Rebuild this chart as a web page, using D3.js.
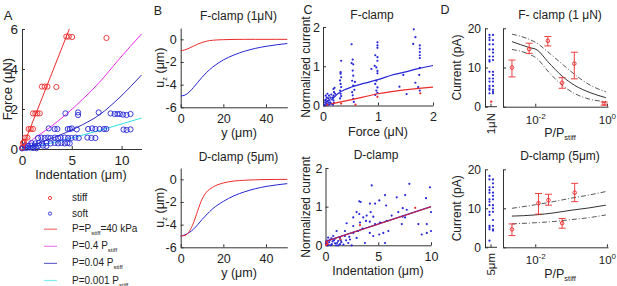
<!DOCTYPE html>
<html>
<head>
<meta charset="utf-8" />
<title>Indentation / clamp figure</title>
<script src="https://cdnjs.cloudflare.com/ajax/libs/d3/7.8.5/d3.min.js"></script>
<style>
  body { margin: 0; background: #fff; }
  svg { font-family: "Liberation Sans", Arial, sans-serif; }
  .ax path, .ax line { stroke: #333; stroke-width: 1; }
  .ax text { fill: #222; font-family: "Liberation Sans", Arial, sans-serif; }
</style>
</head>
<body>
<svg id="fig" width="617" height="286"></svg>
<script>
// ---- panel A : force vs indentation ----
const stiffPts = [[4.45,5.62],[4.69,5.62],[5.03,5.6],[8.48,5.55],[2.0,3.12],[2.28,3.12],[2.55,3.12],[3.45,3.1],
  [1.1,1.78],[1.34,1.78],[1.54,1.78],[1.78,1.78],[0.67,1.0],[0.87,1.0],[1.1,1.0],[0.34,0.57],[0.54,0.57],
  [0.1,0.3],[0.2,0.35],[0.02,0.07]]
const softPts = [[4.36,1.78],[5.63,1.83],[5.63,1.7],[7.7,1.83],[8.9,1.78],[9.3,1.75],[9.58,1.75],[9.82,1.75],
  [10.15,1.72],[10.49,1.7],[10.9,1.75],
  [2.68,1.03],[3.28,1.0],[3.55,1.0],[4.6,1.0],[4.8,1.0],[5.0,1.03],[5.5,0.98],[6.64,1.0],[7.04,1.03],[7.37,1.0],
  [7.8,1.0],[8.24,1.0],[8.47,1.0],[10.2,0.97],[10.5,0.95],[10.9,0.98],
  [1.61,0.55],[1.95,0.57],[2.28,0.55],[2.61,0.57],[2.88,0.55],[3.28,0.57],[3.62,0.55],[3.88,0.57],[4.29,0.57],
  [4.63,0.55],[4.96,0.55],[5.36,0.57],[5.7,0.55],[6.57,0.57],[6.97,0.55],[7.37,0.55],
  [0.94,0.3],[1.34,0.28],[1.68,0.3],[2.01,0.28],[2.45,0.3],[2.88,0.28],[3.28,0.3],[3.62,0.28],[3.95,0.3],
  [4.29,0.28],[4.56,0.3],[4.79,0.28],
  [0.27,0.17],[0.6,0.15],[0.94,0.17],[1.27,0.15],[1.61,0.15],[2.11,0.17],[2.45,0.15],
  [0.0,0.03],[0.1,0.05],[0.44,0.05],[0.77,0.07],[1.1,0.05],[1.45,0.04]]
const fitStiff = [[0,0],[4.75,6]]
const fit04 = [[0,0],[1.15,0.5],[2.8,1.08],[4.45,1.74],[6.1,2.49],[7.75,3.32],[9.73,4.48],[12,5.75]]
const fit004 = [[0,0],[1.15,0.2],[2.8,0.5],[4.45,0.83],[6.1,1.22],[7.75,1.7],[9.75,2.55],[12,3.7]]
const fit0001 = [[0,0],[2,0.2],[4,0.42],[6,0.68],[8,0.96],[10,1.25],[12,1.55]]
const legendNames = ['stiff', 'soft', 'P=P|stiff|=40 kPa', 'P=0.4 P|stiff', 'P=0.04 P|stiff', 'P=0.001 P|stiff']

// ---- panel B : surface displacement profiles ----
const yPos = [0,2,4,6,8,10,12,15,20,25,30,35,40,45,50]
const uzFStiff = [-1,-0.93,-0.78,-0.6,-0.42,-0.28,-0.17,-0.08,-0.03,-0.01,0,0,0,0,0]
const uzFSoft = [-5,-4.92,-4.65,-4.25,-3.8,-3.35,-2.95,-2.45,-1.82,-1.38,-1.05,-0.8,-0.62,-0.48,-0.37]
const uzDStiff = [-5,-4.95,-4.6,-3.85,-2.75,-1.75,-1.15,-0.7,-0.32,-0.15,-0.08,-0.04,-0.02,-0.01,0]
const uzDSoft = [-5,-4.9,-4.7,-4.4,-4.0,-3.55,-3.15,-2.6,-1.95,-1.45,-1.1,-0.83,-0.63,-0.49,-0.38]

// ---- panel C : normalized current ----
const fBlue = [[0.03,0.02],[0.04,0.08],[0.05,0.15],[0.05,0.25],[0.06,0.05],[0.07,0.1],[0.07,0.2],[0.08,0.3],
  [0.08,0.03],[0.09,0.12],[0.1,0.07],[0.1,0.18],[0.11,0.25],[0.12,0.03],[0.12,0.14],[0.13,0.08],[0.14,0.2],
  [0.15,0.05],[0.15,0.28],[0.06,0.01],[0.09,0.01],[0.04,0.13],
  [0.19,0.42],[0.2,0.34],[0.19,0.25],[0.18,0.2],[0.19,0.13],[0.2,0.07],[0.18,0.02],[0.21,0.45],[0.22,0.3],
  [0.33,1.14],[0.32,0.85],[0.32,0.81],[0.33,0.72],[0.31,0.64],[0.32,0.55],[0.33,0.47],[0.31,0.38],[0.32,0.3],
  [0.33,0.24],[0.31,0.18],
  [0.52,1.56],[0.54,1.17],[0.52,1.08],[0.55,1.05],[0.54,0.89],[0.55,0.76],[0.53,0.63],[0.55,0.51],[0.53,0.34],
  [0.54,0.26],[0.55,0.17],[0.56,0.09],[0.58,0.6],[0.57,0.4],
  [0.99,1.61],[0.99,1.53],[0.99,1.47],[0.95,1.28],[0.99,1.23],[0.99,1.14],[0.94,1.01],[0.97,0.97],[0.99,0.88],
  [0.99,0.82],[0.88,0.93],[0.97,0.63],[0.95,0.55],[0.99,0.46],[0.97,0.38],[0.99,0.32],[0.95,0.27],
  [1.46,0.78],[1.39,0.48],[1.52,0.29],
  [1.65,1.94],[1.68,1.74],[1.64,1.57],[1.76,1.53],[1.76,1.45],[1.76,1.36],[1.76,1.28],[1.76,1.21],[1.76,0.96],
  [1.75,0.78],[1.68,0.58],[1.73,0.47],[1.76,0.38]]
const fRed = [[0.08,0.02],[0.33,0.05],[0.59,0.02],[0.99,0.22],[1.77,0.31]]
const fFitBlue = [[0.15,0.14],[0.27,0.3],[0.39,0.4],[0.52,0.47],[0.76,0.57],[1.0,0.66],[1.24,0.77],[1.48,0.85],[1.73,0.94],[2.0,1.02]]
const fFitRed = [[0.15,0.04],[0.52,0.15],[1.0,0.3],[1.48,0.4],[2.0,0.47]]
const dBlue = [[4.38,1.55],[7.95,1.59],[9.9,1.5],[3.2,1.14],[3.33,1.12],[5.64,1.3],[6.75,1.24],[7.55,1.3],[9.53,1.22],
  [4.21,1.08],[4.7,1.08],[5.1,1.16],[5.75,1.03],[7.32,0.96],[7.7,0.92],[10.0,0.86],
  [2.63,0.72],[2.95,0.86],[3.2,0.81],[3.58,0.72],[3.9,0.77],[4.28,0.86],[4.53,0.74],[6.27,0.77],[6.9,0.86],
  [7.3,0.74],[7.54,0.72],
  [2.0,0.57],[2.63,0.5],[3.27,0.59],[3.84,0.63],[4.2,0.61],[4.7,0.55],[5.17,0.59],[5.8,0.63],[7.23,0.55],
  [8.8,0.55],[9.6,0.55],
  [1.05,0.37],[1.84,0.37],[2.63,0.32],[3.1,0.37],[3.5,0.43],[4.2,0.32],[4.53,0.24],[5.1,0.28],[5.48,0.32],
  [5.96,0.37],[9.12,0.28],[9.6,0.32],[10.0,0.37],
  [0.73,0.24],[1.37,0.19],[1.84,0.24],[2.32,0.15],[2.95,0.19],[3.74,0.06],[5.64,0.06],[2.48,0.0],
  [0.42,0.14],[0.9,0.17],[1.2,0.11],[1.5,0.08],[0.1,0.06],[2.16,0.06],[1.7,0.02],[1.2,0.0],[0.9,0.05],
  [0.68,0.1],[0.35,0.08],[0.04,0.05],[0.17,0.0],[0.5,0.0],[1.0,0.0],[1.37,0.03],[0.8,0.13],[1.1,0.06],
  [1.45,0.13],[1.95,0.13],[2.25,0.22],[0.25,0.2],[0.6,0.03],[0.3,0.01],[0.15,0.12],[0.55,0.18]]
const dRed = [[3.27,0.52],[8.5,0.97],[0.05,0.01],[0.2,0.03],[0.12,0.08],[1.4,0.15]]
const dFit = [[0,0.1],[10,1.0]]

// ---- panel D : current vs stiffness ratio ----
const fStripBlue = [18.3,18.3,17.6,17.0,17.0,15.9,15.9,14.6,14.6,13.8,12.8,12.8,11.9,11.9,11.5,8.9,8.9,8.1,
  7.2,7.2,6.4,6.4,5.3,5.3,4.7,4.3,4.3,3.8,3.4,3.4]
const fStripRed = [1.3]
const dStripBlue = [18.3,17.4,17.4,16.4,15.4,15.4,14.7,14.0,14.0,13.2,12.3,12.3,11.7,10.8,10.8,10.0,9.1,9.1,
  8.3,7.0,5.5,5.5,5.1,4.6,4.6,4.3,1.7]
const fRatio = [0.00224,0.00676,0.0224,0.0562,0.123,0.84]
const fMean = [10.0,14.7,16.8,6.1,11.0,0.8]
const fLo = [7.6,13.6,15.5,4.7,7.1,0.4]
const fHi = [11.9,16.2,17.9,7.4,13.9,1.2]
const dRatio = [0.00224,0.0123,0.0234,0.0562,0.126]
const dMean = [4.6,11.3,12.1,6.2,14.0]
const dLo = [3.0,8.5,10.8,4.9,11.7]
const dHi = [6.0,13.8,13.6,7.4,16.4]
const fModelX = [0.00224,0.00676,0.0112,0.0224,0.0562,0.123,0.339,0.933]
const fModel = [16.6,15.1,14.5,11.5,7.8,5.5,3.6,2.3]
const fModelHi = [18.5,17.2,16.2,14.0,10.9,8.3,5.5,3.8]
const fModelLo = [14.6,13.4,12.3,9.1,5.5,3.4,1.9,1.3]
const dModelX = [0.00224,0.01,0.0316,0.1,0.316,0.933]
const dModel = [8.0,8.3,8.8,9.5,10.1,10.8]
const dModelHi = [10.0,10.9,11.7,12.6,13.4,14.3]
const dModelLo = [6.0,6.3,6.6,7.1,7.6,8.3]

const RED = '#ec2b2b', BLUE = '#2626d6', MAG = '#ee2cee', CYAN = '#2ee0e6', NAVY = '#2f2fb8'
const fig = d3.select('#fig')
const plain = d => String(d)

function axes(o) {
  const g = fig.append('g').attr('class', 'ax')
  const ax = d3.axisBottom(o.x).tickValues(o.xt).tickSizeInner(-3).tickSizeOuter(0)
    .tickPadding(o.xpad || 7).tickFormat(plain)
  g.append('g').attr('transform', `translate(0,${o.y.range()[0]})`).call(ax)
  const ay = d3.axisLeft(o.y).tickValues(o.yt).tickSizeInner(-3).tickSizeOuter(0)
    .tickPadding(o.ypad || 4).tickFormat(plain)
  g.append('g').attr('transform', `translate(${o.x.range()[0]},0)`).call(ay)
  g.selectAll('text').style('font-size', o.fs + 'px')
  return g
}
// x, y give the centre of the text
function label(x, y, txt, fs, rot) {
  const t = fig.append('text').attr('x', x).attr('y', y).attr('dy', '0.35em').attr('text-anchor', 'middle')
    .style('font-size', fs + 'px').attr('fill', '#222')
  if (rot) t.attr('transform', `rotate(-90,${x},${y})`)
  txt.split('|').forEach((p, i) => {
    const s = t.append('tspan').text(p)
    if (i % 2 === 1) s.style('font-size', (fs * 0.6) + 'px').attr('dy', 3)
    else if (i > 0) s.attr('dy', -3)
  })
  return t
}
function line(x, y, pts, color, w, dash) {
  fig.append('path').attr('d', d3.line().x(d => x(d[0])).y(d => y(d[1])).curve(d3.curveMonotoneX)(pts))
    .attr('fill', 'none').attr('stroke', color).attr('stroke-width', w || 1)
    .attr('stroke-dasharray', dash || null)
}

// ===== A =====
const ax = d3.scaleLinear().domain([0, 12]).range([22, 141.5])
const ay = d3.scaleLinear().domain([0, 6]).range([149, 29])
axes({x: ax, y: ay, xt: [0, 5, 10], yt: [0, 2, 4, 6], fs: 13.5, xpad: 6, ypad: 4})
line(ax, ay, fitStiff, RED)
line(ax, ay, fit04, MAG)
line(ax, ay, fit004, NAVY)
line(ax, ay, fit0001, CYAN)
fig.append('g').selectAll('circle').data(softPts).join('circle')
  .attr('cx', d => ax(d[0])).attr('cy', d => ay(d[1])).attr('r', 2.6)
  .attr('fill', 'none').attr('stroke', BLUE).attr('stroke-width', 0.9)
fig.append('g').selectAll('circle').data(stiffPts).join('circle')
  .attr('cx', d => ax(d[0])).attr('cy', d => ay(d[1])).attr('r', 2.6)
  .attr('fill', 'none').attr('stroke', RED).attr('stroke-width', 0.9)
label(8, 15, 'A', 13)
label(7, 89, 'Force (μN)', 13, true)
label(81, 175, 'Indentation (μm)', 12.5)

// legend
const legColors = [RED, BLUE, '#f07070', '#ee80ee', '#6a6ad0', '#80eef0']
const legY = d3.scalePoint().domain(legendNames).range([198, 276])
legendNames.forEach((n, i) => {
  const yy = legY(n) + (i > 2 ? (i - 2) * 1.5 : 0)
  if (i < 2) {
    fig.append('circle').attr('cx', 50).attr('cy', yy).attr('r', 1.6)
      .attr('fill', 'none').attr('stroke', legColors[i]).attr('stroke-width', 0.9)
  } else {
    fig.append('line').attr('x1', 44).attr('x2', 57).attr('y1', yy).attr('y2', yy)
      .attr('stroke', legColors[i]).attr('stroke-width', 1.2)
  }
  const t = fig.append('text').attr('x', 72).attr('y', yy + 3).style('font-size', '10px').attr('fill', '#222')
  n.split('|').forEach((p, k) => {
    const s = t.append('tspan').text(p)
    if (k === 1) s.style('font-size', '6px').attr('dy', 3)
    if (k === 2) s.attr('dy', -3)
  })
})

// ===== B =====
const bx = d3.scaleLinear().domain([0, 50]).range([180.7, 287.3])
const byTop = d3.scaleLinear().domain([-6, 1]).range([107.3, 28])
const byBot = d3.scaleLinear().domain([-6, 1]).range([247.3, 168])
const zipB = arr => yPos.map((v, i) => [v, arr[i]])
;[[byTop, uzFStiff, uzFSoft, 'F-clamp (1μN)', 16], [byBot, uzDStiff, uzDSoft, 'D-clamp (5μm)', 157]].forEach(([by, st, so, title, ty]) => {
  axes({x: bx, y: by, xt: [0, 20, 40], yt: [-6, -4, -2, 0], fs: 12.5, xpad: 7})
  line(bx, by, zipB(so), BLUE)
  line(bx, by, zipB(st), RED)
  label(238.5, ty, title, 12)
  label(239, by.range()[0] + 25, 'y (μm)', 12.5)
  label(160, by(-2.5), 'u|z| (μm)', 12.5, true)
})
label(158, 11, 'B', 12.5)

// ===== C =====
const cxTop = d3.scaleLinear().domain([0, 2]).range([323, 433])
const cyTop = d3.scaleLinear().domain([0, 2]).range([105.5, 27])
const cxBot = d3.scaleLinear().domain([0, 10]).range([325.5, 431])
const cyBot = d3.scaleLinear().domain([0, 2]).range([245.3, 168])
axes({x: cxTop, y: cyTop, xt: [0, 1, 2], yt: [0, 1, 2], fs: 12.5, xpad: 7, ypad: 3})
axes({x: cxBot, y: cyBot, xt: [0, 5, 10], yt: [0, 1, 2], fs: 12.5, xpad: 7, ypad: 3})
function dots(x, y, pts, color) {
  fig.append('g').selectAll('circle').data(pts).join('circle')
    .attr('cx', d => x(d[0])).attr('cy', d => y(d[1])).attr('r', 1.1).attr('fill', color)
}
dots(cxTop, cyTop, fBlue, BLUE)
dots(cxTop, cyTop, fRed, RED)
line(cxTop, cyTop, fFitBlue, BLUE, 1.2)
line(cxTop, cyTop, fFitRed, RED, 1.2)
dots(cxBot, cyBot, dBlue, BLUE)
dots(cxBot, cyBot, dRed, RED)
line(cxBot, cyBot, dFit, BLUE, 1.2)
line(cxBot, cyBot, dFit, '#d02040', 1.1)
label(308, 10, 'C', 12.5)
label(372, 15, 'F-clamp', 12)
label(376, 155, 'D-clamp', 12)
label(378, 132, 'Force (μN)', 12.5)
label(378, 271, 'Indentation (μm)', 12.5)
label(306, 67, 'Normalized current', 12, true)
label(306, 207, 'Normalized current', 12, true)

// ===== D =====
const dx = d3.scaleLog().domain([Math.pow(10, -2.9), Math.pow(10, 0.03)]).range([503, 608])
const dyTop = d3.scaleLinear().domain([0, 20]).range([106.7, 28.3])
const dyBot = d3.scaleLinear().domain([0, 20]).range([247.3, 169.3])
const stripX = d3.scaleLinear().domain([0, 1]).range([489.5, 493])
function logTicks(g) {
  g.selectAll('.tick text').text(null).each(function(d) {
    const t = d3.select(this)
    t.append('tspan').text('10')
    t.append('tspan').text(Math.round(Math.log10(d)) === 0 ? '0' : '-2')
      .style('font-size', '8px').attr('dy', -5)
  })
}
;[[dyTop, fStripBlue, fStripRed, '1μN', fRatio, fMean, fLo, fHi, fModelX, fModel, fModelHi, fModelLo, 'F- clamp (1 μN)', 15],
  [dyBot, dStripBlue, [], '5μm', dRatio, dMean, dLo, dHi, dModelX, dModel, dModelHi, dModelLo, 'D-clamp (5μm)', 156]]
.forEach(([dy, sb, sr, cat, xr, m, lo, hi, mx, mm, mh, ml, title, ty]) => {
  const y0 = dy.range()[0]
  // strip of single-cell currents
  const sg = fig.append('g').attr('class', 'ax')
  sg.append('g').attr('transform', 'translate(485,0)')
    .call(d3.axisLeft(dy).tickValues([0, 10, 20]).tickSizeInner(-3).tickSizeOuter(0).tickPadding(4).tickFormat(plain))
  sg.selectAll('text').style('font-size', '12px')
  sg.append('line').attr('x1', 485).attr('x2', 497).attr('y1', y0).attr('y2', y0)
  sg.append('line').attr('x1', 491).attr('x2', 491).attr('y1', y0).attr('y2', y0 - 3)
  fig.append('g').selectAll('circle').data(sb).join('circle')
    .attr('cx', (d, i) => stripX(i % 2)).attr('cy', d => dy(d)).attr('r', 1.1).attr('fill', BLUE)
  fig.append('g').selectAll('circle').data(sr).join('circle')
    .attr('cx', stripX(0.5)).attr('cy', d => dy(d)).attr('r', 1.2).attr('fill', RED)
  label(491, y0 + 17, cat, 11.5, true)
  label(457, dy(10), 'Current (pA)', 12, true)

  // main log axes
  const g = fig.append('g').attr('class', 'ax')
  g.append('g').attr('transform', `translate(0,${y0})`)
    .call(d3.axisBottom(dx).tickValues([0.01, 1]).tickSizeInner(-3).tickSizeOuter(0).tickPadding(9))
    .call(logTicks)
  g.append('g').attr('transform', 'translate(503,0)')
    .call(d3.axisLeft(dy).tickValues([0, 10, 20]).tickSizeInner(-3).tickSizeOuter(0).tickFormat(''))
  g.selectAll('.tick text').style('font-size', '11.5px')

  const mz = arr => mx.map((v, i) => [v, arr[i]])
  line(dx, dy, mz(mh), '#444', 0.9, '5,2,1,2')
  line(dx, dy, mz(ml), '#444', 0.9, '5,2,1,2')
  line(dx, dy, mz(mm), '#333', 1)

  const eb = fig.append('g').attr('stroke', RED).attr('stroke-width', 0.9).attr('fill', 'none')
  xr.forEach((v, i) => {
    const px = dx(v)
    eb.append('line').attr('x1', px).attr('x2', px).attr('y1', dy(lo[i])).attr('y2', dy(hi[i]))
    eb.append('line').attr('x1', px - 3.5).attr('x2', px + 3.5).attr('y1', dy(lo[i])).attr('y2', dy(lo[i]))
    eb.append('line').attr('x1', px - 3.5).attr('x2', px + 3.5).attr('y1', dy(hi[i])).attr('y2', dy(hi[i]))
    eb.append('circle').attr('cx', px).attr('cy', dy(m[i])).attr('r', 1.8)
  })
  label(560, ty, title, 12)
  label(560, y0 + 26, 'P/P|stiff', 12.5)
})
label(445, 10, 'D', 12.5)
</script>
</body>
</html>
